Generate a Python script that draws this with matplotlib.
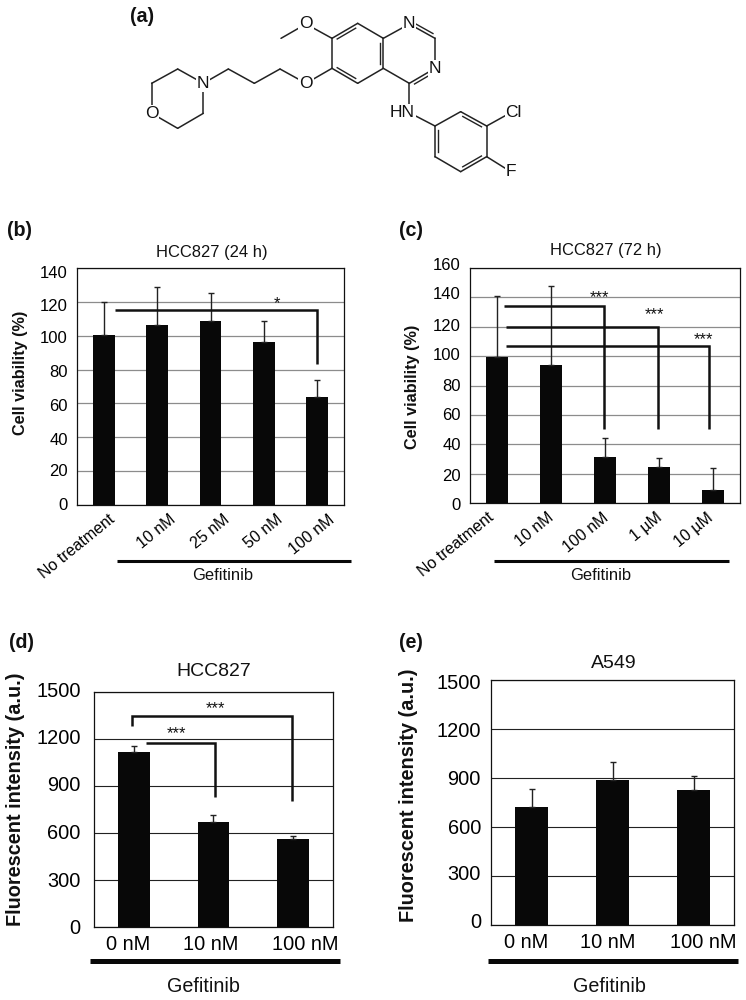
import matplotlib
matplotlib.use("Agg")
import matplotlib.pyplot as plt
from matplotlib.transforms import ScaledTranslation

plt.rcParams["font.family"] = ["Liberation Sans", "DejaVu Sans"]

# panel b
labels_b = ["No treatment", "10 nM", "25 nM", "50 nM", "100 nM"]
values_b = [100.5, 106.5, 108.5, 96, 64]
tops_b = [120, 129, 125.5, 108.5, 74]
ticks_b = [0, 20, 40, 60, 80, 100, 120, 140]

# panel c
labels_c = ["No treatment", "10 nM", "100 nM", "1 µM", "10 µM"]
values_c = [99.6, 94, 31.5, 24.5, 8.8]
tops_c = [141, 147.5, 44.5, 30.8, 24]
ticks_c = [0, 20, 40, 60, 80, 100, 120, 140, 160]

# panels d and e
labels_de = ["0 nM", "10 nM", "100 nM"]
values_d = [1115, 670, 562]
tops_d = [1155, 712, 578]
values_e = [720, 885, 825]
tops_e = [830, 1000, 910]
ticks_de = [0, 300, 600, 900, 1200, 1500]

W, H = 746, 1000
fig = plt.figure(figsize=(W / 100, H / 100), dpi=100)


def px_axes(x0, x1, y0, y1):
    return fig.add_axes([x0 / W, 1 - y1 / H, (x1 - x0) / W, (y1 - y0) / H])


def shift(text, dx, dy):
    text.set_transform(text.get_transform() + ScaledTranslation(dx / 100, dy / 100, fig.dpi_scale_trans))


def bar_panel(box, labels, values, tops, ticks, width, grid, fs, lw, ydy, xdx, rotate, ydx=0, err_lw=1.0):
    ax = px_axes(*box)
    xs = list(range(len(values)))
    ax.set_axisbelow(True)
    ax.grid(axis="y", color=grid, linewidth=lw)
    ax.bar(xs, values, width=width, color="#080808", zorder=3)
    ax.errorbar(xs, values, yerr=[[0] * len(values), [t - v for t, v in zip(tops, values)]],
                fmt="none", ecolor="#222222", elinewidth=err_lw, capsize=2.4, capthick=err_lw, zorder=4)
    ax.set_xlim(-0.5, len(values) - 0.5)
    ax.set_ylim(ticks[0], ticks[-1])
    ax.set_yticks(ticks)
    ax.set_xticks(xs)
    if rotate:
        ax.set_xticklabels(labels, rotation=39, ha="right", rotation_mode="anchor")
    else:
        ax.set_xticklabels(labels)
    ax.tick_params(axis="both", length=0, labelsize=fs, pad=6)
    if rotate:
        ax.tick_params(axis="x", labelsize=11.5, pad=5)
    for spine in ax.spines.values():
        spine.set_linewidth(0.9)
        spine.set_color("#111111")
    for t, dy in zip(ax.get_yticklabels(), ydy):
        shift(t, ydx, dy)
    for t, dx in zip(ax.get_xticklabels(), xdx):
        shift(t, dx, 0)
    return ax


def bracket(ax, x0, x1, y, y_right, y_left=None, lw=1.8):
    xs = [x0, x1, x1]
    ys = [y, y, y_right]
    if y_left is not None:
        xs = [x0] + xs
        ys = [y_left] + ys
    ax.plot(xs, ys, color="#111111", linewidth=lw, zorder=5, solid_joinstyle="miter", solid_capstyle="butt")


def stars(ax, x, y, s="***"):
    ax.text(x, y, s, ha="center", va="center", fontsize=12, color="#111111", zorder=6)


ax_b = bar_panel((77, 344, 268, 505), labels_b, values_b, tops_b, ticks_b, 0.41, "#8c8c8c", 12, 0.9,
                 [1, 0.7, -1.3, -1.3, -1.3, -1.3, -3, -4], [5, 12, 12, 12, 11], True, ydx=-1)
bracket(ax_b, 0.21, 3.99, 115, 83)
stars(ax_b, 3.25, 119, "*")

ax_c = bar_panel((470.3, 739.7, 268, 503), labels_c, values_c, tops_c, ticks_c, 0.4, "#8c8c8c", 12, 0.9,
                 [-1, -1, 0.7, 0.7, 0.3, 2, 2, 4.3, 4], [-10, -4, -3, -3, -6], True, ydx=-1)
bracket(ax_c, 0.12, 1.99, 134.4, 50.4)
bracket(ax_c, 0.17, 2.98, 120, 50.4)
bracket(ax_c, 0.17, 3.93, 107, 50.4)
stars(ax_c, 1.89, 140)
stars(ax_c, 2.91, 128.5)
stars(ax_c, 3.82, 111.5)

ax_d = bar_panel((94, 333, 691.7, 927), labels_de, values_d, tops_d, ticks_de, 0.4, "#222222", 14.4, 0.8,
                 [0.3, 0.3, 1.3, 2.3, 2.7, 2.7], [-6, -3, 12], False, ydx=-5)
bracket(ax_d, -0.02, 1.99, 1347, 803, 1281)
bracket(ax_d, 0.15, 1.02, 1171, 831)
stars(ax_d, 1.03, 1395)
stars(ax_d, 0.54, 1230)

ax_e = bar_panel((491.3, 734.3, 680, 925), labels_de, values_e, tops_e, ticks_de, 0.405, "#222222", 14.4, 0.8,
                 [4, 3.3, 1, 0.3, -0.3, -1.7], [-6, -5, 9], False, ydx=-2)

# overlay in image pixels for titles, panel letters and the structure
ov = fig.add_axes([0, 0, 1, 1], zorder=10)
ov.set_xlim(0, W)
ov.set_ylim(H, 0)
ov.axis("off")
ov.patch.set_alpha(0)


def label(x, y, s, size, **kw):
    ov.text(x, y, s, fontsize=size, ha="center", va="center", color="#111111", **kw)


for x, y, s in [(142, 17, "(a)"), (19, 231, "(b)"), (411, 231, "(c)"), (21, 642, "(d)"), (411, 642, "(e)")]:
    label(x, y, s, 14.2, fontweight="bold")

label(212, 252, "HCC827 (24 h)", 11.9)
label(605.7, 251, "HCC827 (72 h)", 11.9)
label(214, 672, "HCC827", 14)
label(614, 663, "A549", 14)
label(20.7, 373, "Cell viability (%)", 11.7, rotation=90, fontweight="bold")
label(412, 387, "Cell viability (%)", 11.7, rotation=90, fontweight="bold")
label(15.7, 799, "Fluorescent intensity (a.u.)", 14.3, rotation=90, fontweight="bold")
label(409, 795, "Fluorescent intensity (a.u.)", 14.3, rotation=90, fontweight="bold")

for x0, x1, y, lw, tx, ty, fs in [(116.7, 351, 561, 2.2, 223, 576, 11.9),
                                  (493.7, 728.7, 560.7, 2.2, 600.7, 576, 11.9),
                                  (90, 340, 961, 3.6, 203, 986, 14.2),
                                  (488, 738, 961, 3.6, 609, 986, 14.2)]:
    ov.plot([x0, x1], [y, y], color="#080808", linewidth=lw, solid_capstyle="butt")
    label(tx, ty, "Gefitinib", fs)


def m(p):
    return (p[0] / 3 + 120, p[1] / 3)


atoms = {
    "me": (483, 115), "ome": (558, 72), "c7": (636, 115), "c8": (713, 70), "c8a": (790, 115),
    "c4a": (790, 205), "c5": (713, 250), "c6": (636, 205), "n1": (868, 72), "c2": (945, 115),
    "n3": (945, 205), "c4": (868, 250), "nh": (868, 338), "p1": (945, 378), "p2": (1022, 335),
    "p3": (1100, 378), "p4": (1100, 470), "p5": (1022, 515), "p6": (945, 470), "cl": (1172, 338),
    "f": (1172, 515), "o2": (558, 250), "a1": (480, 207), "a2": (403, 250), "a3": (325, 207),
    "n": (250, 250), "b1": (173, 207), "b2": (95, 250), "o3": (95, 340), "b3": (173, 385), "b4": (250, 340),
}
bonds = ["me-ome", "ome-c7", "c7-c8", "c8-c8a", "c8a-c4a", "c4a-c5", "c5-c6", "c6-c7", "c8a-n1", "n1-c2",
         "c2-n3", "n3-c4", "c4-c4a", "c4-nh", "nh-p1", "p1-p2", "p2-p3", "p3-p4", "p4-p5", "p5-p6", "p6-p1",
         "p3-cl", "p4-f", "c6-o2", "o2-a1", "a1-a2", "a2-a3", "a3-n", "n-b1", "b1-b2", "b2-o3", "o3-b3",
         "b3-b4", "b4-n"]
doubles = [("c7", "c8", 1), ("c8a", "c4a", 1), ("c5", "c6", 1), ("n1", "c2", -1), ("n3", "c4", -1),
           ("p1", "p6", -1), ("p2", "p3", 1), ("p4", "p5", 1)]

for b in bonds:
    a, c = b.split("-")
    p, q = m(atoms[a]), m(atoms[c])
    ov.plot([p[0], q[0]], [p[1], q[1]], color="#222222", linewidth=1.1, solid_capstyle="round")

for a, c, side in doubles:
    p, q = m(atoms[a]), m(atoms[c])
    dx, dy = q[0] - p[0], q[1] - p[1]
    ln = (dx ** 2 + dy ** 2) ** 0.5
    nx, ny = -dy / ln * 3.2 * side, dx / ln * 3.2 * side
    ov.plot([p[0] + nx + dx * 0.14, q[0] + nx - dx * 0.14], [p[1] + ny + dy * 0.14, q[1] + ny - dy * 0.14],
            color="#222222", linewidth=1.0)

for key, s, dx in [("ome", "O", 0), ("n1", "N", 0), ("n3", "N", 0), ("nh", "HN", -7), ("cl", "Cl", 3), ("f", "F", 0),
                   ("o2", "O", 0), ("n", "N", 0), ("o3", "O", 0)]:
    x, y = m(atoms[key])
    ov.text(x + dx, y, s, fontsize=12.5, ha="center", va="center", color="#111111",
            bbox=dict(facecolor="white", edgecolor="none", pad=0.6), zorder=5)

fig.savefig("out.png", dpi=100)
